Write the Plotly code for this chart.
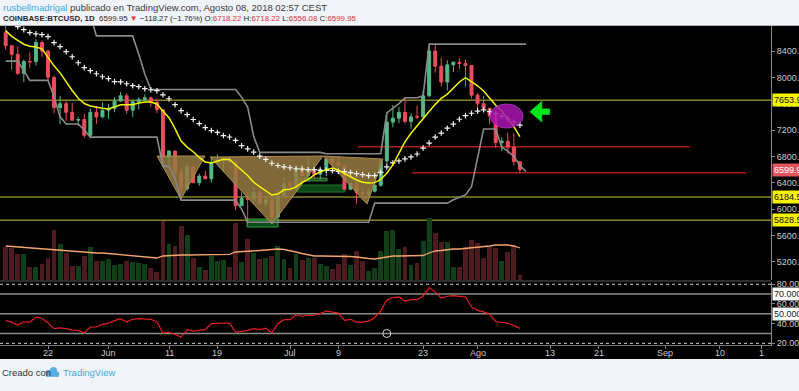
import plotly.graph_objects as go
import pandas as pd

# ---------------- data ----------------
dates = pd.date_range("2018-05-15", "2018-08-08", freq="D")
dates_ext = pd.date_range("2018-05-15", "2018-08-09", freq="D")

opens = [8680, 8480, 8350, 8060, 8240, 8240, 8530, 8400, 8000, 7540,
         7600, 7470, 7350, 7360, 7120, 7470, 7400, 7500, 7530, 7640,
         7720, 7500, 7630, 7660, 7690, 7620, 7510, 6780, 6880, 6550,
         6310, 6640, 6400, 6500, 6460, 6710, 6740, 6770, 6720, 6050,
         6160, 6150, 6250, 6080, 6140, 5880, 6200, 6390, 6360, 6620,
         6510, 6600, 6530, 6600, 6760, 6710, 6660, 6300, 6390, 6250,
         6230, 6270, 6360, 6730, 7320, 7380, 7470, 7330, 7405, 7400,
         7720, 8400, 8170, 7930, 8190, 8230, 8210, 8180, 7730, 7600,
         7530, 7410, 7010, 7030, 6940, 6718.22]
highs = [8840, 8490, 8470, 8270, 8380, 8580, 8560, 8420, 8030, 7720,
         7640, 7610, 7400, 7450, 7530, 7560, 7620, 7600, 7700, 7780,
         7760, 7660, 7700, 7740, 7700, 7680, 7510, 6890, 6890, 6620,
         6690, 6650, 6540, 6580, 6800, 6830, 6790, 6800, 6730, 6250,
         6240, 6340, 6280, 6180, 6170, 6290, 6480, 6430, 6660, 6680,
         6780, 6690, 6640, 6780, 6790, 6800, 6680, 6400, 6400, 6330,
         6320, 6400, 6740, 7460, 7580, 7550, 7690, 7450, 7570, 7800,
         8480, 8490, 8300, 8260, 8240, 8290, 8270, 8180, 7760, 7720,
         7530, 7490, 7090, 7160, 7150, 6718.22]
lows = [8420, 8110, 8040, 7930, 8140, 8180, 8310, 7950, 7450, 7290,
        7340, 7340, 7260, 7080, 7070, 7290, 7380, 7370, 7470, 7630,
        7450, 7400, 7510, 7640, 7550, 7460, 6650, 6660, 6460, 6130,
        6280, 6400, 6350, 6450, 6400, 6680, 6560, 6690, 5980, 6050,
        5760, 6080, 6070, 6040, 5860, 5790, 6200, 6280, 6280, 6490,
        6440, 6460, 6450, 6500, 6680, 6630, 6300, 6290, 6080, 6140,
        6200, 6250, 6340, 6680, 7240, 7300, 7300, 7220, 7370, 7380,
        7700, 8070, 7860, 7800, 8080, 8130, 7860, 7680, 7450, 7480,
        7280, 6930, 6880, 6840, 6660, 6556.08]
closes = [8480, 8350, 8060, 8240, 8235, 8530, 8400, 8000, 7540, 7600,
          7470, 7350, 7360, 7120, 7470, 7400, 7500, 7530, 7640, 7720,
          7500, 7630, 7660, 7690, 7620, 7510, 6780, 6880, 6550, 6310,
          6640, 6400, 6500, 6460, 6710, 6740, 6770, 6720, 6050, 6160,
          6150, 6250, 6080, 6140, 5880, 6200, 6390, 6360, 6620, 6510,
          6600, 6530, 6600, 6760, 6710, 6660, 6300, 6390, 6250, 6230,
          6270, 6360, 6730, 7320, 7380, 7470, 7330, 7400, 7398, 7720,
          8400, 8170, 7930, 8190, 8230, 8210, 8180, 7730, 7600, 7530,
          7410, 7010, 7030, 6940, 6720, 6599.95]

volume = [33, 31.7, 26, 26, 13, 13.3, 16, 21.7, 50, 36,
          27, 14, 14, 24, 32.7, 19, 19, 20.7, 15, 15.7,
          19, 17.7, 17, 16, 11.7, 8.3, 59, 36, 34, 54,
          45, 21.7, 13.3, 10, 24, 19, 20, 13.3, 57, 18,
          40.7, 27, 21, 21.7, 24, 34, 20.7, 11.7, 25.7, 20,
          21.7, 21.7, 16, 14, 10.7, 16, 26, 15, 29.3, 19.3,
          9.3, 11.7, 29.3, 49.3, 50, 30.7, 32.7, 15, 16.7, 39,
          61.7, 46.7, 38, 38, 12.7, 12.7, 32.7, 40, 37.3, 21.7,
          33.3, 32.3, 19.3, 28.3, 35, 5]
volume_ma = [34, 33.5, 33, 32.5, 32, 31.5, 31, 30.5, 30, 30,
             29.5, 29, 28.5, 28, 27.5, 27, 27, 26.5, 26, 25.5,
             25, 24.5, 24, 23.5, 23, 22, 24, 24.5, 24.5, 25,
             25, 25, 25, 25, 25, 25.5, 25.5, 25.7, 28, 28.2,
             28.5, 29, 29.5, 30, 30.5, 31, 30.5, 29.5, 28, 26.5,
             25, 24, 24, 24, 24, 24, 24, 23.5, 23, 22,
             21.5, 21, 22, 23.5, 24, 24, 24, 24, 24, 24.5,
             27, 29, 29.5, 30.5, 31, 31, 31.5, 32.5, 33, 33.5,
             34, 35, 35.3, 35, 34, 32]

ma_fast = [8710, 8622, 8562, 8503, 8473, 8460, 8433, 8295, 8175, 8068,
           7928, 7800, 7682, 7603, 7564, 7544, 7530, 7520, 7550, 7585,
           7585, 7585, 7610, 7625, 7625, 7595, 7487, 7388, 7220, 7032,
           6940, 6870, 6782, 6713, 6698, 6730, 6757, 6752, 6673, 6584,
           6510, 6406, 6337, 6268, 6213, 6228, 6292, 6302, 6337, 6406,
           6446, 6520, 6565, 6595, 6622, 6590, 6535, 6490, 6441, 6406,
           6396, 6401, 6451, 6545, 6670, 6840, 7020, 7150, 7255, 7360,
           7480, 7590, 7680, 7745, 7840, 7930, 7995, 7940, 7872, 7793,
           7685, 7577, 7488, 7368, 7250, 7100]
ma_slow = [8900, 8850, 8770, 8725, 8680, 8660, 8648, 8618, 8528, 8466,
           8390, 8313, 8222, 8147, 8101, 8055, 8009, 7980, 7935, 7930,
           7903, 7873, 7858, 7828, 7812, 7797, 7735, 7675, 7585, 7495,
           7434, 7360, 7298, 7237, 7192, 7163, 7116, 7094, 7042, 6962,
           6913, 6864, 6804, 6755, 6695, 6661, 6641, 6627, 6612, 6607,
           6597, 6597, 6588, 6588, 6582, 6573, 6568, 6553, 6538, 6523,
           6508, 6508, 6556, 6640, 6700, 6730, 6762, 6791, 6836, 6926,
           7002, 7093, 7154, 7228, 7289, 7364, 7418, 7455, 7488, 7507,
           7480, 7450, 7410, 7370, 7322, 7275]

channel_upper = [8950] * 15 + [8630] * 7 + [8350, 8050, 7815] + [7815] * 14 + \
                [7700, 7550, 7100, 6860] + [6860] * 10 + [6840] * 10 + \
                [7460, 7530, 7600, 7690, 7690, 7690, 7720] + [8505] * 17
channel_lower = [8246, 8246, 8246, 8100, 7954, 7954, 7954, 7954, 7700, 7400,
                 7292, 7292, 7292, 7200] + [7092] * 12 + [6650, 6650, 6460] + \
                [6135] * 10 + [6000] + [5800] * 21 + [6090] * 13 + \
                [6140, 6180, 6215, 6338, 6754, 7215, 7215, 7215,
                 6940, 6880, 6800, 6660, 6570]

rsi = [43, 41.5, 38.5, 41.6, 41.6, 46.7, 45.5, 41, 35, 35.6,
       35, 33.5, 33.2, 30.5, 36.6, 36.6, 39.2, 40.6, 43, 45,
       41.6, 44.4, 45, 45, 44.4, 41.6, 30.5, 31.5, 28.8, 26.4,
       33.9, 32.5, 33.2, 33.9, 40, 40.6, 40.6, 40.6, 31.5, 32.2,
       33.2, 35, 34, 35.5, 30.5, 40, 44, 44, 49, 47.5,
       48.5, 48.5, 50.2, 52.8, 51.8, 50.8, 43.4, 44.4, 41.6, 41.6,
       42.6, 46, 53, 64, 66.5, 67.1, 63, 64.4, 64.4, 68,
       76.6, 72, 66, 67.8, 68.4, 68, 67, 57, 53.5, 52,
       49.5, 42, 41.6, 40.6, 38, 35.2]
rsi_marker = ("2018-07-17", 30)

price_ticks = [5200, 5600, 6000, 6400, 6800, 7200, 7600, 8000, 8400]
rsi_ticks = [20, 40, 60, 80]
rsi_box_ticks = [70, 50]
rsi_solid_levels = [70, 50, 30]
rsi_dashed_levels = [80, 20]
x_tickvals = ["2018-05-22", "2018-06-01", "2018-06-11", "2018-06-19", "2018-07-01",
              "2018-07-09", "2018-07-23", "2018-08-01", "2018-08-13", "2018-08-21",
              "2018-09-01", "2018-09-10", "2018-09-17"]
x_ticktext = ["22", "Jun", "11", "19", "Jul", "9", "23", "Ago", "13", "21", "Sep", "10", "1"]

h_levels = [7653.92, 6184.55, 5828.54]
last_close = 6599.95
trend_x = [["2018-07-12 05:45", "2018-09-05 02:00"], ["2018-07-21 04:30", "2018-09-14 09:00"]]
trend_y = [6946, 6552]
pattern_x = [["2018-06-09 00:30", "2018-06-16 22:48", "2018-06-12 23:30"],
             ["2018-06-17 18:43", "2018-07-06 10:48", "2018-06-28 00:30"],
             ["2018-07-06 10:48", "2018-07-16 08:53", "2018-07-13 17:31"]]
pattern_y = [[6805, 6805, 6152], [6790, 6805, 5772], [6805, 6760, 6076]]
box_x = [["2018-06-23 21:20", "2018-06-29 00:30"], ["2018-07-02 03:50", "2018-07-10 02:10"],
         ["2018-07-02 03:50", "2018-07-07 03:00"]]
box_y = [[5727, 5848], [6258, 6365], [6426, 6471]]
ellipse_x = ["2018-08-03 01:26", "2018-08-08 12:15"]
ellipse_y = [7230, 7595]
arrow_x = ["2018-08-09 16:05", "2018-08-11 14:24", "2018-08-11 14:24", "2018-08-12 20:38",
           "2018-08-12 20:38", "2018-08-11 14:24", "2018-08-11 14:24", "2018-08-09 16:05"]
arrow_y = [7478, 7630, 7519, 7519, 7439, 7439, 7326, 7478]

x_range = ["2018-05-14 01:35", "2018-09-18 12:00"]
price_range = [4922, 8780]
rsi_range = [18.3, 82.3]
vol_range = [0, 254]

# ---------------- styling ----------------
UP, DN = "#53b987", "#eb4d5c"
AXF = "Liberation Sans Narrow, Liberation Sans, Arial, sans-serif"
W, H = 799, 391
ML, MR, MT, MB = 0, 28, 26, 46
PW, PH = W - ML - MR, H - MT - MB


def px(x):
    return (x - ML) / PW


def py(y):
    return (H - MB - y) / PH


fig = go.Figure()

vol_colors = ["#113f17" if c >= o else "#4d1a1d" for o, c in zip(opens, closes)]
fig.add_trace(go.Bar(x=dates, y=volume, marker_color=vol_colors, marker_line_width=0,
                     width=0.8 * 86400000, xaxis="x", yaxis="y3"))
fig.add_trace(go.Scatter(x=dates, y=volume_ma, mode="lines", line=dict(color="#f2a56e", width=1.3),
                         xaxis="x", yaxis="y3"))

for tx, ty in zip(pattern_x, pattern_y):
    fig.add_trace(go.Scatter(x=tx + [tx[0]], y=ty + [ty[0]], mode="lines", fill="toself",
                             fillcolor="rgba(150,122,66,0.85)",
                             line=dict(color="rgba(175,140,80,1)", width=1), xaxis="x", yaxis="y"))

fig.add_trace(go.Candlestick(x=dates, open=opens, high=highs, low=lows, close=closes,
                             increasing=dict(line=dict(color=UP, width=1), fillcolor=UP),
                             decreasing=dict(line=dict(color=DN, width=1), fillcolor=DN),
                             whiskerwidth=0, xaxis="x", yaxis="y", hoverinfo="skip"))

fig.add_trace(go.Scatter(x=dates_ext, y=channel_upper, mode="lines",
                         line=dict(color="#8a8a8a", width=1.6), xaxis="x", yaxis="y"))
fig.add_trace(go.Scatter(x=dates_ext, y=channel_lower, mode="lines",
                         line=dict(color="#8a8a8a", width=1.6), xaxis="x", yaxis="y"))
fig.add_trace(go.Scatter(x=dates, y=ma_slow, mode="markers",
                         marker=dict(symbol="cross-thin", size=4, line=dict(width=1.2, color="#f2f2f2")),
                         xaxis="x", yaxis="y"))
fig.add_trace(go.Scatter(x=dates, y=ma_fast, mode="lines", line=dict(color="#f5f500", width=1.5),
                         xaxis="x", yaxis="y"))

fig.add_trace(go.Scatter(x=arrow_x, y=arrow_y, mode="lines", fill="toself", fillcolor="#00e61a",
                         line=dict(color="#00e61a", width=1), xaxis="x", yaxis="y"))

fig.add_trace(go.Scatter(x=dates, y=rsi, mode="lines", line=dict(color="#e4201f", width=1.2),
                         xaxis="x2", yaxis="y2"))
fig.add_trace(go.Scatter(x=[rsi_marker[0]], y=[rsi_marker[1]], mode="markers",
                         marker=dict(symbol="circle-open", size=8, color="#d8d8d8", line=dict(width=1)),
                         xaxis="x2", yaxis="y2"))

shapes = []
# black chart background
shapes.append(dict(type="rect", xref="paper", yref="paper", x0=px(0), x1=px(W + 2), y0=py(359), y1=py(26),
                   fillcolor="#000000", line=dict(width=0), layer="below"))
shapes.append(dict(type="line", xref="paper", yref="paper", x0=px(0), x1=px(W + 2), y0=py(25.5), y1=py(25.5),
                   line=dict(color="#b4b7bd", width=1)))
for lv in h_levels:
    shapes.append(dict(type="line", xref="paper", yref="y", x0=0, x1=1, y0=lv, y1=lv,
                       line=dict(color="#84842a", width=1.5), layer="below"))
for tx, ty in zip(trend_x, trend_y):
    shapes.append(dict(type="line", xref="x", yref="y", x0=tx[0], x1=tx[1], y0=ty, y1=ty,
                       line=dict(color="#b01a1a", width=1.5), layer="below"))
box_fill = ["rgba(18,110,40,0.65)", "rgba(16,95,32,0.75)", "rgba(60,140,60,0.6)"]
box_line = ["#27a23c", "#1d7a2a", "#3c8c3c"]
for bx, by, bf, bl in zip(box_x, box_y, box_fill, box_line):
    shapes.append(dict(type="rect", xref="x", yref="y", x0=bx[0], x1=bx[1], y0=by[0], y1=by[1],
                       fillcolor=bf, line=dict(color=bl, width=1), layer="below"))
shapes.append(dict(type="circle", xref="x", yref="y", x0=ellipse_x[0], x1=ellipse_x[1],
                   y0=ellipse_y[0], y1=ellipse_y[1], fillcolor="#a814b0", opacity=0.85,
                   line=dict(color="#c23ac8", width=1), layer="above"))
# panel separator
shapes.append(dict(type="line", xref="paper", yref="paper", x0=0, x1=1, y0=py(281), y1=py(281),
                   line=dict(color="#5a5a5a", width=1)))
for lv in rsi_solid_levels:
    shapes.append(dict(type="line", xref="paper", yref="y2", x0=0, x1=1, y0=lv, y1=lv,
                       line=dict(color="#8c8c8c", width=1.5), layer="below"))
for lv in rsi_dashed_levels:
    shapes.append(dict(type="line", xref="paper", yref="y2", x0=0, x1=1, y0=lv, y1=lv,
                       line=dict(color="#cfcfcf", width=1, dash="3px,3px"), layer="below"))
# footer logo
for cx, cy, r in [(49, 373, 3.2), (53.5, 370.5, 3.6), (56.5, 374, 2.8)]:
    shapes.append(dict(type="circle", xref="paper", yref="paper", x0=px(cx - r), x1=px(cx + r),
                       y0=py(cy + r), y1=py(cy - r), fillcolor="#58afe2", line=dict(width=0)))
shapes.append(dict(type="rect", xref="paper", yref="paper", x0=px(46), x1=px(59), y0=py(376.8),
                   y1=py(373), fillcolor="#58afe2", line=dict(width=0)))

annotations = []
RED = "#e0303a"
annotations.append(dict(xref="paper", yref="paper", x=px(1), y=py(7), xanchor="left", yanchor="middle",
                        showarrow=False, font=dict(family=AXF, size=9.5, color="#3a3a3a"),
                        text='<span style="color:#3fa9dd">rusbellmadrigal</span> publicado en TradingView.com, '
                             'Agosto 08, 2018 02:57 CEST'))
annotations.append(dict(xref="paper", yref="paper", x=px(1), y=py(18.5), xanchor="left", yanchor="middle",
                        showarrow=False, font=dict(family=AXF, size=7.9, color="#2a2a2a"),
                        text='<b>COINBASE:BTCUSD, 1D</b>  6599.95 <span style="color:%s">▼</span> −118.27 (−1.76%%) '
                             'O:<span style="color:%s">6718.22</span> H:<span style="color:%s">6718.22</span> '
                             'L:<span style="color:%s">6556.08</span> C:<span style="color:%s">6599.95</span>'
                             % (RED, RED, RED, RED, RED)))
annotations.append(dict(xref="paper", yref="paper", x=px(0), y=py(372), xanchor="left", yanchor="middle",
                        showarrow=False, font=dict(family=AXF, size=9.5, color="#333333"), text="Creado con"))
annotations.append(dict(xref="paper", yref="paper", x=px(61), y=py(372), xanchor="left", yanchor="middle",
                        showarrow=False, font=dict(family=AXF, size=9.5, color="#3fa9dd"), text="TradingView"))
for lv in h_levels:
    annotations.append(dict(xref="paper", yref="y", x=1, y=lv, xanchor="left", yanchor="middle", xshift=1,
                            showarrow=False, bgcolor="#f5f500", borderpad=1,
                            font=dict(family=AXF, size=9, color="#111111"), text="%.2f" % lv))
annotations.append(dict(xref="paper", yref="y", x=1, y=last_close, xanchor="left", yanchor="middle", xshift=1,
                        showarrow=False, bgcolor="#e4545e", borderpad=1,
                        font=dict(family=AXF, size=9, color="#ffffff"), text="%.2f" % last_close))
for lv in rsi_box_ticks:
    annotations.append(dict(xref="paper", yref="y2", x=1, y=lv, xanchor="left", yanchor="middle", xshift=1,
                            showarrow=False, bgcolor="#ffffff", borderpad=1,
                            font=dict(family=AXF, size=9, color="#222222"), text="%.4f" % lv))
for tv, tt in zip(x_tickvals, x_ticktext):
    annotations.append(dict(xref="x2", yref="paper", x=tv, y=py(352.5), xanchor="center", yanchor="middle",
                            showarrow=False, font=dict(family=AXF, size=9, color="#c9c9c9"), text=tt))

tickfont = dict(family=AXF, size=9, color="#c9c9c9")
fig.update_layout(
    width=W, height=H, margin=dict(l=ML, r=MR, t=MT, b=MB, autoexpand=False),
    paper_bgcolor="#f0f3f7", plot_bgcolor="#000000", showlegend=False,
    shapes=shapes, annotations=annotations, bargap=0,
    xaxis=dict(domain=[0, 1], anchor="y", type="date", range=x_range, showgrid=False, zeroline=False,
               showticklabels=False, rangeslider=dict(visible=False), ticks="", automargin=False),
    xaxis2=dict(domain=[0, 1], anchor="y2", type="date", range=x_range, showgrid=False, zeroline=False,
                tickvals=x_tickvals, showticklabels=False, ticks="outside", ticklen=3, tickcolor="#888888",
                showline=True, linecolor="#777777", automargin=False),
    yaxis=dict(domain=[py(280), 1], anchor="x", side="right", range=price_range, tickvals=price_ticks,
               tickformat=".2f", ticks="outside", ticklen=3, tickcolor="#888888", showline=True,
               linecolor="#888888", showgrid=False, zeroline=False, tickfont=tickfont, automargin=False),
    yaxis2=dict(domain=[0, py(282)], anchor="x2", side="right", range=rsi_range, tickvals=rsi_ticks,
                ticktext=["%.4f" % v for v in rsi_ticks], ticks="outside", ticklen=3, tickcolor="#888888",
                showline=True, linecolor="#888888", showgrid=False, zeroline=False, tickfont=tickfont,
                automargin=False),
    yaxis3=dict(overlaying="y", anchor="x", range=vol_range, visible=False, showgrid=False, automargin=False),
)

fig.write_html("out.html", config={"displayModeBar": False},
               post_script="document.body.style.margin='0';document.body.style.padding='0';"
                           "document.body.style.overflow='hidden';")
